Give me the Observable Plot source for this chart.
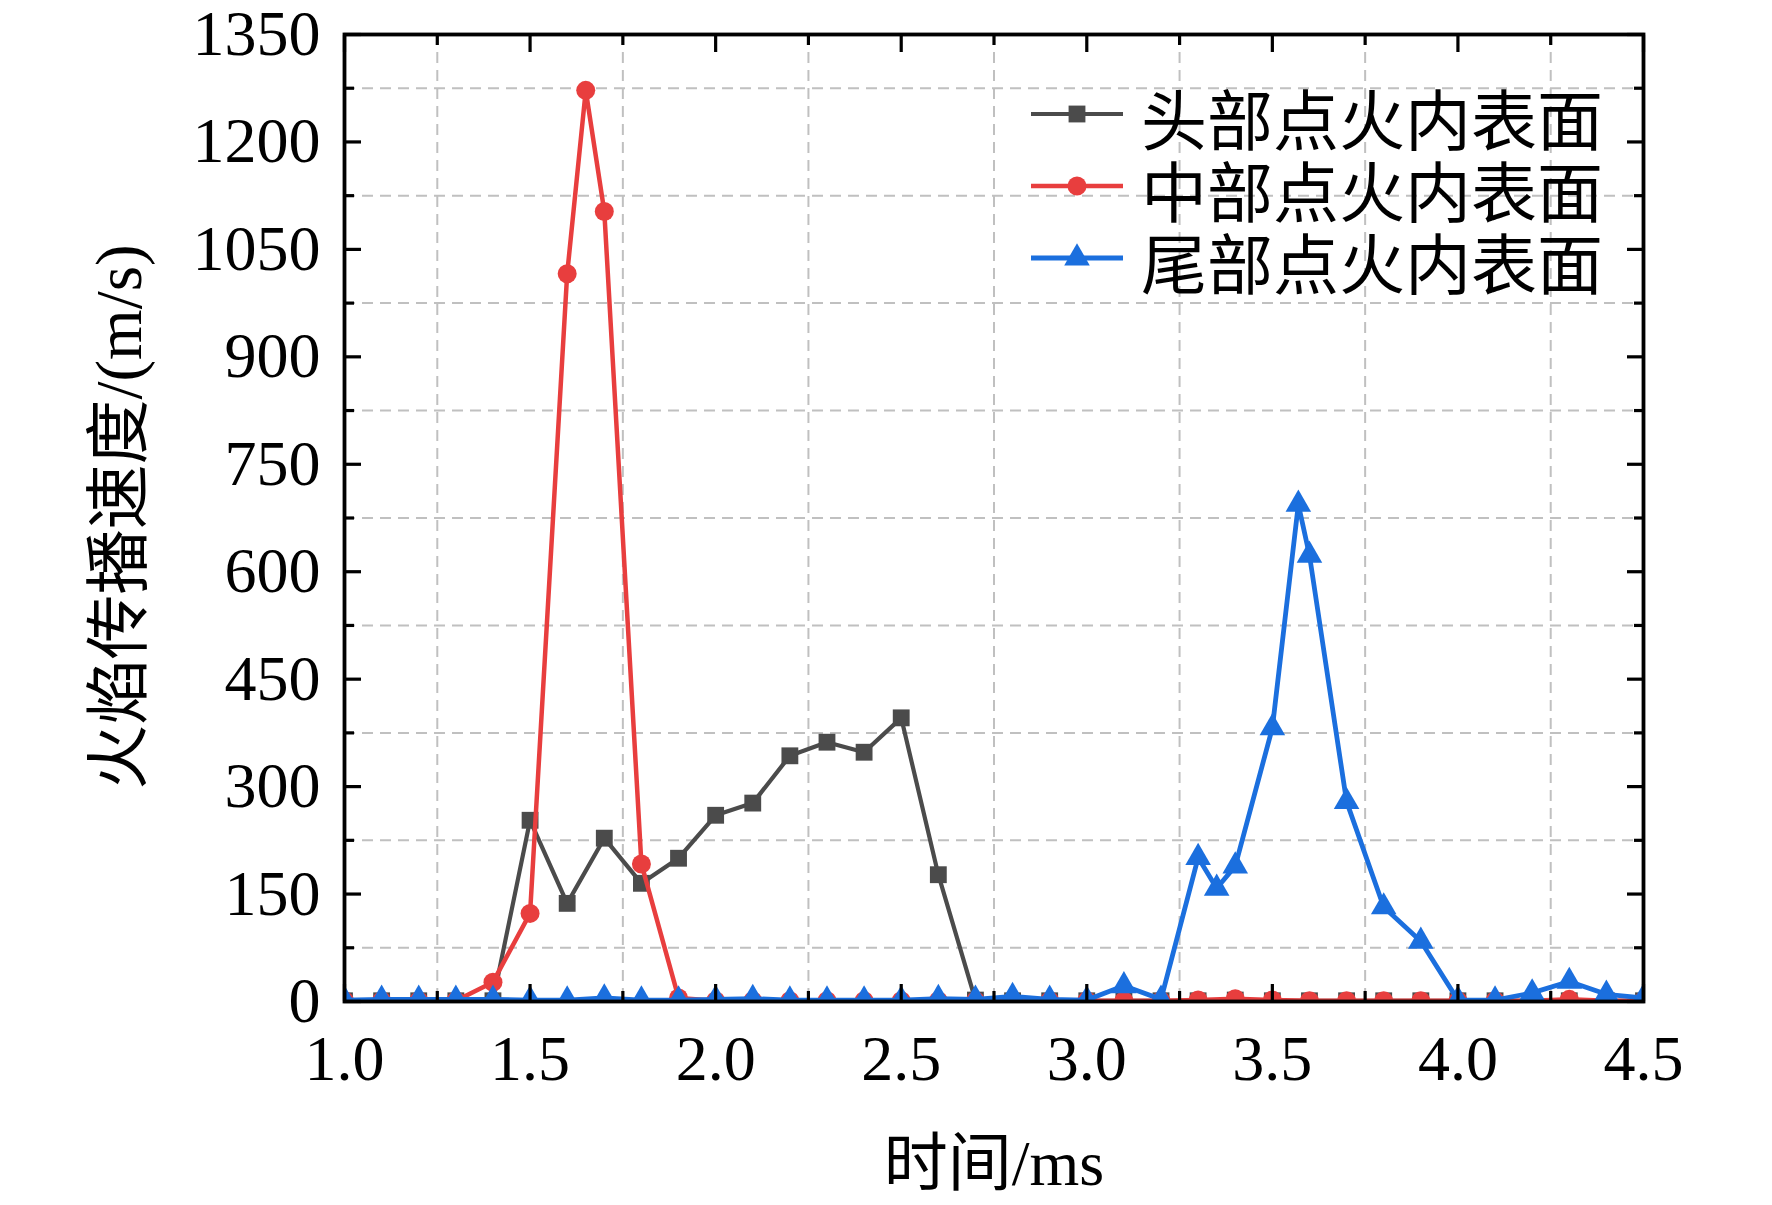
<!DOCTYPE html>
<html><head><meta charset="utf-8">
<script src="https://cdn.jsdelivr.net/npm/d3@7"></script>
<script src="https://cdn.jsdelivr.net/npm/@observablehq/plot@0.6"></script>
<style>
body{margin:0;background:#fff;}
#chart{position:relative;width:1772px;height:1205px;}
</style>
</head><body><div id="chart"></div>
<script>
// ---- data ----
const seriesNames = ["头部点火内表面", "中部点火内表面", "尾部点火内表面"];
const xTitle = "时间/ms";
const yTitle = "火焰传播速度/(m/s)";

const timeHead = [1.0,1.1,1.2,1.3,1.4,1.5,1.6,1.7,1.8,1.9,2.0,2.1,2.2,2.3,2.4,2.5,2.6,2.7,2.8,2.9,3.0,3.1,3.2,3.3,3.4,3.5,3.6,3.7,3.8,3.9,4.0,4.1,4.2,4.3,4.4,4.5];
const speedHead = [1,1,1,1,1,253,137,228,165,200,260,277,343,362,348,396,177,2,1,1,1,1,1,1,2,1,1,1,1,1,1,1,1,1,1,1];

const timeMid = [1.0,1.1,1.2,1.3,1.4,1.5,1.6,1.65,1.7,1.8,1.9,2.0,2.1,2.2,2.3,2.4,2.5,2.6,2.7,2.8,2.9,3.0,3.1,3.2,3.3,3.4,3.5,3.6,3.7,3.8,3.9,4.0,4.1,4.2,4.3,4.4,4.5];
const speedMid = [1,1,1,1,27,123,1016,1272,1103,192,5,1,1,1,1,1,1,1,1,1,1,1,1,1,2,4,2,1,1,1,1,1,1,1,3,1,1];

const timeTail = [1.0,1.1,1.2,1.3,1.4,1.5,1.6,1.7,1.8,1.9,2.0,2.1,2.2,2.3,2.4,2.5,2.6,2.7,2.8,2.9,3.0,3.1,3.2,3.3,3.35,3.4,3.5,3.57,3.6,3.7,3.8,3.9,4.0,4.1,4.2,4.3,4.4,4.5];
const speedTail = [2,3,3,3,3,2,2,5,2,2,3,4,2,2,2,2,4,3,7,3,2,22,3,201,158,189,382,694,623,279,132,84,2,2,12,28,10,5];

const xMajor = [1.0,1.5,2.0,2.5,3.0,3.5,4.0,4.5];
const xMinor = [1.25,1.75,2.25,2.75,3.25,3.75,4.25];
const yMajor = [0,150,300,450,600,750,900,1050,1200,1350];
const yMinor = [75,225,375,525,675,825,975,1125,1275];

// ---- styles ----
const colors = ["#4b4b4b", "#e83e3e", "#1b6fde"];
const symbols = ["square", "circle", "triangle"];
const radii = [9.5, 9.5, 9.5];
const widths = [4.2, 4.5, 4.8];
const latin = "'Liberation Serif', 'Times New Roman', 'Noto Sans CJK SC', serif";

const head = timeHead.map((t, i) => ({t, v: speedHead[i]}));
const mid = timeMid.map((t, i) => ({t, v: speedMid[i]}));
const tail = timeTail.map((t, i) => ({t, v: speedTail[i]}));
const sets = [head, mid, tail];

const gridStyle = {stroke: "#c0c0c0", strokeOpacity: 1, strokeWidth: 2, strokeDasharray: "11,7"};

const marks = [
  Plot.gridX(xMinor, gridStyle),
  Plot.gridY(yMinor, gridStyle)
];
sets.forEach((d, k) => {
  marks.push(Plot.line(d, {x: "t", y: "v", stroke: colors[k], strokeWidth: widths[k], clip: true}));
  marks.push(Plot.dot(d, {x: "t", y: "v", symbol: symbols[k], r: radii[k], fill: colors[k], stroke: null, clip: true}));
});
const noText = () => "";
marks.push(
  Plot.axisX(xMajor, {anchor: "bottom", tickSize: 0, tickPadding: 33, tickFormat: d => d.toFixed(1), label: null, fontSize: 64}),
  Plot.axisY(yMajor, {anchor: "left", tickSize: 0, tickPadding: 24, tickFormat: d => String(d), label: null, fontSize: 64}),
  Plot.axisX(xMajor, {anchor: "bottom", tickSize: -17, tickFormat: noText, label: null, strokeWidth: 3.2}),
  Plot.axisX(xMinor, {anchor: "bottom", tickSize: -10, tickFormat: noText, label: null, strokeWidth: 3.2}),
  Plot.axisX(xMajor, {anchor: "top", tickSize: -17, tickFormat: noText, label: null, strokeWidth: 3.2}),
  Plot.axisX(xMinor, {anchor: "top", tickSize: -10, tickFormat: noText, label: null, strokeWidth: 3.2}),
  Plot.axisY(yMajor, {anchor: "left", tickSize: -17, tickFormat: noText, label: null, strokeWidth: 3.2}),
  Plot.axisY(yMinor, {anchor: "left", tickSize: -10, tickFormat: noText, label: null, strokeWidth: 3.2}),
  Plot.axisY(yMajor, {anchor: "right", tickSize: -17, tickFormat: noText, label: null, strokeWidth: 3.2}),
  Plot.axisY(yMinor, {anchor: "right", tickSize: -10, tickFormat: noText, label: null, strokeWidth: 3.2}),
  Plot.frame({stroke: "black", strokeWidth: 3.8})
);

const svg = Plot.plot({
  width: 1772,
  height: 1205,
  marginLeft: 344,
  marginRight: 129,
  marginTop: 34,
  marginBottom: 204,
  x: {domain: [1.0, 4.5]},
  y: {domain: [0, 1350]},
  style: {fontFamily: latin, fontSize: "64px", color: "black", background: "white", overflow: "visible"},
  marks
});
document.getElementById("chart").appendChild(svg);

// ---- titles & legend ----
const s = d3.select(svg);
s.append("text")
  .attr("x", 994).attr("y", 1163)
  .attr("text-anchor", "middle").attr("dominant-baseline", "central")
  .style("font-family", latin).style("font-size", "64px").attr("fill", "black")
  .text(xTitle);
s.append("text")
  .attr("transform", "translate(119,517) rotate(-90)")
  .attr("text-anchor", "middle").attr("dominant-baseline", "central")
  .style("font-family", latin).style("font-size", "65px").attr("fill", "black")
  .text(yTitle);

const legendY = [114, 186, 258];
const sym = {square: d3.symbolSquare, circle: d3.symbolCircle, triangle: d3.symbolTriangle};
seriesNames.forEach((name, k) => {
  const g = s.append("g").attr("transform", `translate(0,${legendY[k]})`);
  g.append("line").attr("x1", 1031).attr("x2", 1123).attr("y1", 0).attr("y2", 0)
    .attr("stroke", colors[k]).attr("stroke-width", widths[k]);
  g.append("path").attr("transform", "translate(1077,0)")
    .attr("d", d3.symbol(sym[symbols[k]], Math.PI * radii[k] * radii[k])())
    .attr("fill", colors[k]);
  g.append("text").attr("x", 1141).attr("y", 2)
    .attr("text-anchor", "start")
    .attr("dominant-baseline", "central")
    .style("font-family", "'Noto Sans CJK SC', sans-serif").style("font-size", "66px")
    .attr("fill", "black")
    .text(name);
});
</script></body></html>
